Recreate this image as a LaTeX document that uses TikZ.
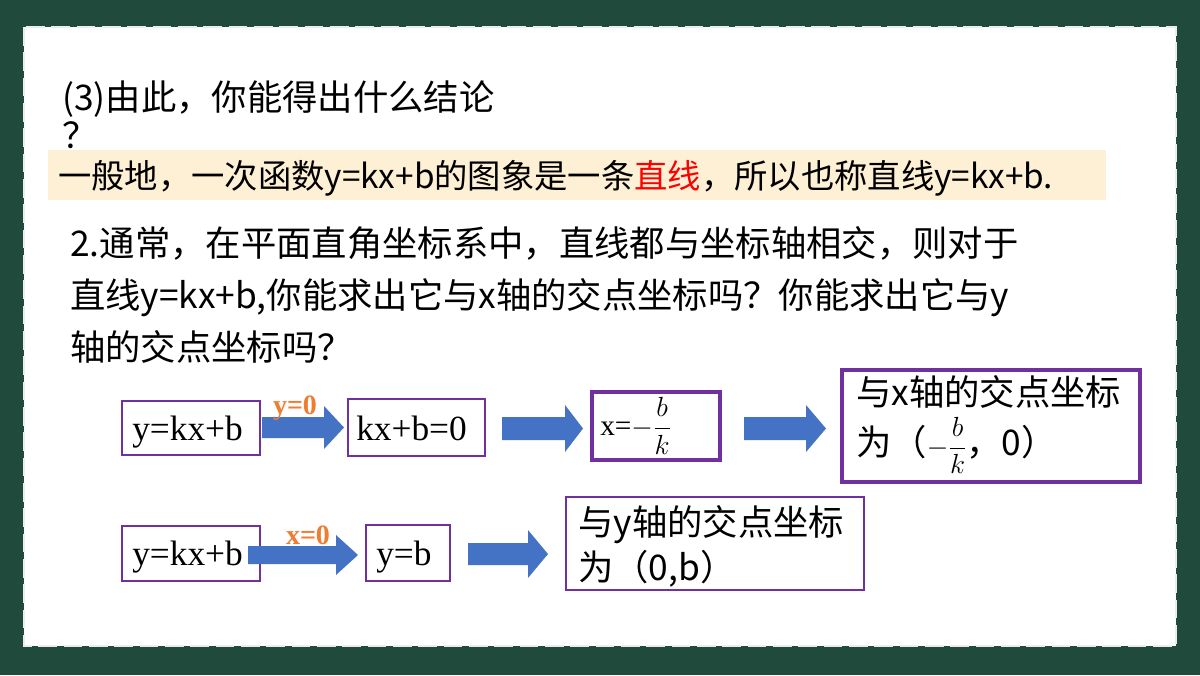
\documentclass[tikz,border=0pt]{standalone}
\usepackage{fontspec}
\setmainfont{Noto Sans CJK SC}
\newfontfamily\lat{Liberation Serif}
\definecolor{bg}{HTML}{1F4A3C}
\definecolor{pur}{HTML}{7030A0}
\definecolor{blu}{HTML}{4472C4}
\definecolor{org}{HTML}{ED7D31}
\definecolor{hl}{HTML}{FDF0D5}
\newcommand{\arrw}[6]{\fill[blu] (#1,#3) -- (#2,#3) -- (#2,#5) -- (#6,{(#3+#4)/2}) -- (#2,{#3+#4-#5}) -- (#2,#4) -- (#1,#4) -- cycle;}
\begin{document}
\begin{tikzpicture}[x=0.75pt,y=-0.75pt,
 bx/.style={draw=pur,line width=1.8pt},
 tx/.style={anchor=base west,inner sep=0pt,font=\fontsize{26.5}{30}\selectfont}]
\fill[bg] (0,0) rectangle (1200,675);
\useasboundingbox (0,0) rectangle (1200,675);
\fill[white] (24,27) rectangle (1176,646);
\draw[white!85!gray,line width=2pt,dash pattern=on 14pt off 5pt] (24,27) rectangle (1176,646);
\node[tx] (t1) at (62,110) {(3)由此，你能得出什么结论};
\node[tx] (t2) at (62,148) {？};
\fill[hl] (48,150) rectangle (1106,200);
\node[tx,font=\fontsize{25}{30}\selectfont] (t3) at (58,188) {一般地，一次函数y=kx+b的图象是一条\textcolor{red}{直线}，所以也称直线y=kx+b.};
\node[tx] (p1) at (70,256) {2.通常，在平面直角坐标系中，直线都与坐标轴相交，则对于};
\node[tx] (p2) at (70,308) {直线y=kx+b,你能求出它与x轴的交点坐标吗？你能求出它与y};
\node[tx] (p3) at (70,360) {轴的交点坐标吗？};
% row 1
\draw[bx] (122,401) rectangle (260,455);
\node[tx] (b1) at (132,440) {\lat y=kx+b};
\draw[bx] (348,399) rectangle (485,456);
\node[tx] (b2) at (356,440) {\lat kx+b=0};
\draw[bx,line width=2.4pt] (592,392) rectangle (720,460);
\node[anchor=west,inner sep=0pt,font=\fontsize{22}{24}\selectfont] (b3) at (600,426) {\lat x=$-\displaystyle\frac{b}{k}$};
\draw[bx,line width=2.4pt] (842,370) rectangle (1140,482);
\node[tx] (b4a) at (856,405) {与x轴的交点坐标};
\node[tx] (b4b) at (856,455) {为（{\fontsize{20}{22}\selectfont$-\displaystyle\frac{b}{k}$}，0）};
\arrw{262}{324}{417}{438}{406}{344}
\arrw{502}{565}{417}{440}{405}{583}
\arrw{744}{806}{417}{440}{405}{826}
\node[font=\lat\bfseries\fontsize{21}{22}\selectfont,text=org,inner sep=0pt] (l1) at (295,408) {y=0};
% row 2
\draw[bx] (122,526) rectangle (260,581);
\node[tx] (c1) at (132,565) {\lat y=kx+b};
\draw[bx] (366,525) rectangle (450,581);
\node[tx] (c2) at (376,565) {\lat y=b};
\draw[bx] (566,497) rectangle (864,590);
\node[tx] (c3a) at (578,535) {与y轴的交点坐标};
\node[tx] (c3b) at (578,580) {为（0,b）};
\arrw{248}{336}{546}{564}{535}{358}
\arrw{468}{528}{543}{565}{530}{548}
\node[font=\lat\bfseries\fontsize{21}{22}\selectfont,text=org,inner sep=0pt] (l2) at (308,535) {x=0};
\end{tikzpicture}
\end{document}
